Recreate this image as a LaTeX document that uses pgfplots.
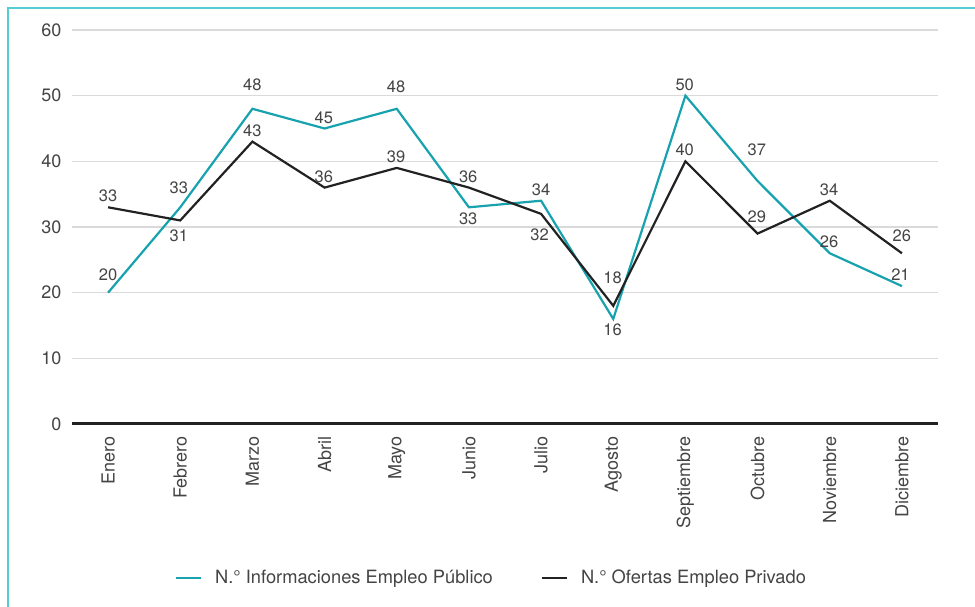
\documentclass[border=0pt]{standalone}
\usepackage{fontspec}
\setmainfont{TeX Gyre Heros}
\usepackage{pgfplots}
\pgfplotsset{compat=1.18}
\usepackage{pgfplotstable}
\definecolor{tealc}{HTML}{17A2AE}
\definecolor{dark}{HTML}{222222}
\definecolor{txt}{HTML}{444444}
\definecolor{framec}{HTML}{55CDD2}
\definecolor{gridc}{HTML}{DADADA}

\pgfplotstableread{
x y
0 20
1 33
2 48
3 45
4 48
5 33
6 34
7 16
8 50
9 37
10 26
11 21
}\pub
\pgfplotstableread{
x y
0 33
1 31
2 43
3 36
4 39
5 36
6 32
7 18
8 40
9 29
10 34
11 26
}\priv
\pgfplotstableread{
x y lab
0 22.7 20
0.98 36.0 33
2 51.6 48
2.99 46.7 45
3.99 51.3 48
4.99 31.3 33
6 35.6 34
6.99 14.4 16
7.99 51.6 50
8.99 41.7 37
9.99 27.8 26
10.98 22.8 21
}\pubLab
\pgfplotstableread{
x y lab
0 34.7 33
0.98 28.6 31
2 44.7 43
2.99 37.7 36
3.99 40.7 39
4.99 37.7 36
5.98 28.8 32
6.99 22.3 18
7.99 41.7 40
8.99 31.6 29
9.99 35.7 34
11.0 28.6 26
}\privLab

\begin{document}
\begin{tikzpicture}
\useasboundingbox (0pt,0pt) rectangle (975pt,607pt);
\draw[framec, line width=1.5pt] (8pt,0pt) -- (8pt,599pt) -- (975pt,599pt);
\begin{axis}[
  at={(72pt,183pt)}, anchor=south west,
  scale only axis, width=866pt, height=394pt,
  xmin=-0.5, xmax=11.5, ymin=0, ymax=60,
  clip=false,
  ytick={0,10,...,60},
  xtick={0,...,11},
  xticklabels={Enero,Febrero,Marzo,Abril,Mayo,Junio,Julio,Agosto,Septiembre,Octubre,Noviembre,Diciembre},
  xticklabel shift=9pt,
  x tick label style={rotate=90, anchor=east, font=\fontsize{18}{20}\selectfont, text=txt},
  y tick label style={font=\fontsize{18}{20}\selectfont, text=txt, xshift=-7pt},
  /pgf/number format/assume math mode=true,
  axis line style={draw=none},
  major tick length=0pt,
  ymajorgrids,
  major grid style={gridc, line width=1.2pt},
  legend columns=2,
  legend style={draw=none, fill=none, at={(0.4844,-0.39)}, anchor=center,
    font=\fontsize{18.3}{20}\selectfont, text=txt,
    /tikz/every odd column/.append style={column sep=11pt},
    /tikz/every even column/.append style={column sep=46pt}},
  legend image code/.code={\draw[#1] (0pt,0pt) -- (25pt,0pt);},
  nodes near coords style={font=\fontsize{16.5}{18}\selectfont, text=txt, anchor=center, inner sep=0pt},
]
\addplot[dark, line width=3pt, forget plot] coordinates {(-0.5,0) (11.5,0)};
\addplot[tealc, line width=2.2pt] table[x=x,y=y] {\pub};
\addlegendentry{N.° Informaciones Empleo Público}
\addplot[dark, line width=2.2pt] table[x=x,y=y] {\priv};
\addlegendentry{N.° Ofertas Empleo Privado}
\addplot[draw=none, mark=none, forget plot, nodes near coords, point meta=explicit symbolic] table[x=x,y=y,meta=lab] {\pubLab};
\addplot[draw=none, mark=none, forget plot, nodes near coords, point meta=explicit symbolic] table[x=x,y=y,meta=lab] {\privLab};
\end{axis}
\end{tikzpicture}
\end{document}
